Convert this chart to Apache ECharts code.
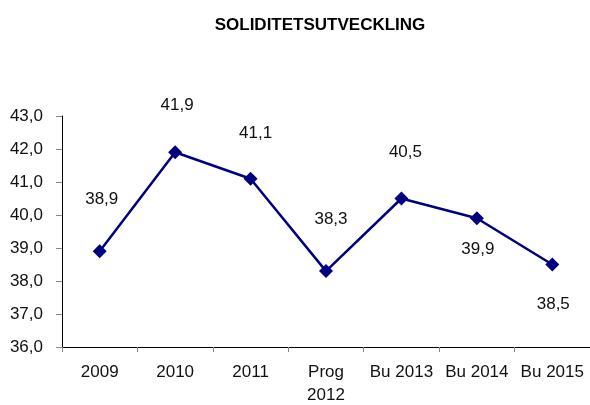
<!DOCTYPE html>
<html>
<head>
<meta charset="utf-8">
<script src="https://cdn.jsdelivr.net/npm/echarts@6/dist/echarts.min.js"></script>
<style>
html,body{margin:0;padding:0;background:#fff;}
#c{width:590px;height:405px;}
</style>
</head>
<body>
<div id="c"></div>
<script>
var titleText = 'SOLIDITETSUTVECKLING';
var categories = ['2009', '2010', '2011', 'Prog\n2012', 'Bu 2013', 'Bu 2014', 'Bu 2015'];
var values = [38.9, 41.9, 41.1, 38.3, 40.5, 39.9, 38.5];
var yTicks = [36, 37, 38, 39, 40, 41, 42, 43];
var labelOffsets = [[2, -52], [2, -47], [5, -45], [5, -52], [4, -46], [1, 31], [1, 40]];

var FONT = '"Liberation Sans", Arial, sans-serif';
function fmt(v) { return Number(v).toFixed(1).replace('.', ','); }

var chart = echarts.init(document.getElementById('c'), null, {renderer: 'canvas'});
chart.setOption({
  animation: false,
  backgroundColor: '#ffffff',
  title: {
    text: titleText,
    left: 315,
    textAlign: 'center',
    top: 12,
    textStyle: {fontFamily: FONT, fontSize: 17, fontWeight: 'bold', color: '#000'}
  },
  grid: {left: 62, right: 0, top: 116, bottom: 58, containLabel: false, outerBoundsMode: 'none'},
  xAxis: {
    type: 'category',
    data: categories,
    boundaryGap: true,
    axisLine: {lineStyle: {color: '#000', width: 1}},
    axisTick: {show: true, length: 5, lineStyle: {color: '#888'}},
    axisLabel: {margin: 14, fontFamily: FONT, fontSize: 17, color: '#111', lineHeight: 23, interval: 0}
  },
  yAxis: {
    type: 'value',
    min: yTicks[0],
    max: yTicks[yTicks.length - 1],
    interval: 1,
    axisLine: {show: true, lineStyle: {color: '#000', width: 1}},
    axisTick: {show: true, length: 6, lineStyle: {color: '#888'}},
    splitLine: {show: false},
    axisLabel: {margin: 19, fontFamily: FONT, fontSize: 17, color: '#111', formatter: fmt}
  },
  series: [{
    type: 'line',
    data: values.map(function (v, i) {
      return {
        value: v,
        label: {show: true, position: 'inside', offset: labelOffsets[i]}
      };
    }),
    symbol: 'diamond',
    symbolSize: 14,
    lineStyle: {color: '#000080', width: 2.5},
    itemStyle: {color: '#000080'},
    label: {
      show: true,
      fontFamily: FONT,
      fontSize: 17,
      color: '#111',
      formatter: function (p) { return fmt(p.value); }
    }
  }]
});
</script>
</body>
</html>
